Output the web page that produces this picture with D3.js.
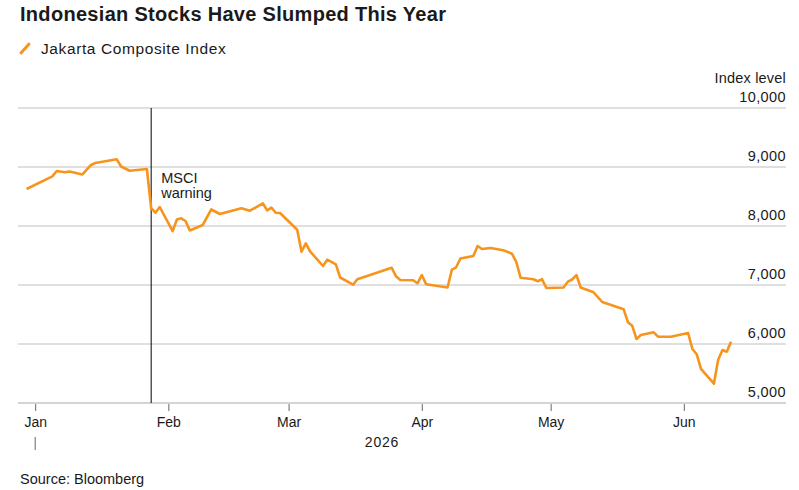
<!DOCTYPE html>
<html lang="en">
	<head>
		<meta charset="utf-8">
		<title>Indonesian Stocks Have Slumped This Year</title>
		<script src="https://d3js.org/d3.v7.min.js"></script>
		<style>
			body { margin: 0; background: #fff; }
			text { font-family: "Liberation Sans", Arial, Helvetica, sans-serif; fill: #1a1a1a; }
		</style>
	</head>
	<body>
		<script type="text/javascript">
			// window size setup
			var w = 799
			var h = 490
			var plotLeft = 18
			var plotRight = 786
			var plotTop = 108
			var plotBottom = 403

			// data
			var dates = ["2025-12-30","2026-01-05","2026-01-06","2026-01-08","2026-01-09","2026-01-12","2026-01-14","2026-01-15","2026-01-20","2026-01-21",
				"2026-01-23","2026-01-27","2026-01-28","2026-01-29","2026-01-30","2026-02-02","2026-02-03","2026-02-04","2026-02-05","2026-02-06",
				"2026-02-09","2026-02-11","2026-02-13","2026-02-18","2026-02-20","2026-02-23","2026-02-24","2026-02-25","2026-02-26","2026-02-27",
				"2026-03-03","2026-03-04","2026-03-05","2026-03-06","2026-03-09","2026-03-10","2026-03-12","2026-03-13","2026-03-16","2026-03-17",
				"2026-03-25","2026-03-26","2026-03-27","2026-03-30","2026-03-31","2026-04-01","2026-04-02","2026-04-07","2026-04-08","2026-04-09",
				"2026-04-10","2026-04-13","2026-04-14","2026-04-15","2026-04-17","2026-04-20","2026-04-22","2026-04-23","2026-04-24","2026-04-27",
				"2026-04-28","2026-04-29","2026-04-30","2026-05-04","2026-05-05","2026-05-06","2026-05-07","2026-05-08","2026-05-11","2026-05-13",
				"2026-05-18","2026-05-19","2026-05-20","2026-05-21","2026-05-22","2026-05-25","2026-05-26","2026-05-29","2026-06-02","2026-06-03",
				"2026-06-04","2026-06-05","2026-06-08","2026-06-09","2026-06-10","2026-06-11","2026-06-12"]
			var jciValues = [8627,8842,8932,8910,8924,8873,9034,9068,9130,9008,
				8937,8966,8305,8225,8322,7915,8110,8130,8085,7924,
				8017,8280,8203,8300,8259,8385,8266,8313,8225,8220,
				7937,7564,7707,7571,7322,7429,7351,7127,7005,7098,
				7293,7147,7085,7081,7029,7169,7014,6958,7259,7300,
				7449,7491,7661,7610,7627,7588,7530,7390,7124,7098,
				7064,7098,6949,6958,7056,7093,7169,6958,6876,6712,
				6588,6369,6308,6085,6153,6198,6124,6122,6186,5915,
				5827,5580,5327,5732,5898,5869,6039]
			var yTicks = [5000, 6000, 7000, 8000, 9000, 10000]
			var monthTicks = ["2026-01-01","2026-02-01","2026-03-01","2026-04-01","2026-05-01","2026-06-01"]
			var msciDate = "2026-01-28"

			var parse = d3.timeParse("%Y-%m-%d")
			var dataSet = dates.map(function(d, i){
				return [parse(d), jciValues[i]]
			})

			// scale setup
			var xScale = d3.scaleTime()
							.domain([new Date(2025, 11, 28), new Date(2026, 5, 24, 19)])
							.range([plotLeft, plotRight])
			var yScale = d3.scaleLinear()
							.domain([5000, 10000])
							.range([plotBottom, plotTop])

			var svg = d3.select("body")
						.append("svg")
						.attr("width", w)
						.attr("height", h)

			// title + legend
			svg.append("text")
				.attr("x", 20)
				.attr("y", 21)
				.attr("font-size", 20)
				.attr("font-weight", "bold")
				.attr("letter-spacing", 0.3)
				.text("Indonesian Stocks Have Slumped This Year")

			svg.append("line")
				.attr("x1", 21).attr("y1", 53)
				.attr("x2", 29).attr("y2", 44)
				.attr("stroke", "#f7941d")
				.attr("stroke-width", 3)
				.attr("stroke-linecap", "round")

			svg.append("text")
				.attr("x", 41)
				.attr("y", 54)
				.attr("font-size", 15.5)
				.attr("letter-spacing", 0.6)
				.text("Jakarta Composite Index")

			// gridlines + y labels
			svg.append("g")
				.selectAll("line")
				.data(yTicks)
				.enter()
				.append("line")
				.attr("x1", plotLeft)
				.attr("x2", plotRight)
				.attr("y1", function(d){ return yScale(d) })
				.attr("y2", function(d){ return yScale(d) })
				.attr("stroke", "#d4d4d4")
				.attr("stroke-width", function(d){ return d == 5000 ? 2 : 1.5 })

			svg.append("g")
				.selectAll("text")
				.data(yTicks)
				.enter()
				.append("text")
				.attr("x", plotRight)
				.attr("y", function(d){ return yScale(d) - 6 })
				.attr("text-anchor", "end")
				.attr("font-size", 14.5)
				.attr("letter-spacing", 0.4)
				.text(function(d){ return d3.format(",")(d) })

			svg.append("text")
				.attr("x", plotRight)
				.attr("y", 83)
				.attr("text-anchor", "end")
				.attr("font-size", 14.5)
				.attr("letter-spacing", 0.2)
				.text("Index level")

			// x axis
			var xAxis = d3.axisBottom(xScale)
							.tickValues(monthTicks.map(parse))
							.tickSize(7)
							.tickPadding(6)
							.tickFormat(d3.timeFormat("%b"))

			var gx = svg.append("g")
				.attr("transform", "translate(0," + (plotBottom + 1) + ")")
				.call(xAxis)
			gx.select(".domain").remove()
			gx.selectAll(".tick line").attr("stroke", "#666")
			gx.selectAll(".tick text")
				.attr("font-size", 14)
				.attr("fill", "#1a1a1a")
				.style("font-family", "'Liberation Sans', Arial, sans-serif")

			// year marker under Jan
			svg.append("line")
				.attr("x1", xScale(parse("2026-01-01")))
				.attr("x2", xScale(parse("2026-01-01")))
				.attr("y1", 437)
				.attr("y2", 450)
				.attr("stroke", "#666")

			svg.append("text")
				.attr("x", 382)
				.attr("y", 447)
				.attr("text-anchor", "middle")
				.attr("font-size", 14)
				.attr("letter-spacing", 0.8)
				.text("2026")

			// MSCI annotation
			var mx = xScale(parse(msciDate))
			svg.append("line")
				.attr("x1", mx).attr("x2", mx)
				.attr("y1", plotTop).attr("y2", plotBottom)
				.attr("stroke", "#000")
				.attr("stroke-width", 1)

			svg.append("text")
				.attr("x", mx + 10)
				.attr("y", 183)
				.attr("font-size", 14.5)
				.text("MSCI")
			svg.append("text")
				.attr("x", mx + 10)
				.attr("y", 198)
				.attr("font-size", 14.5)
				.text("warning")

			// line
			var line = d3.line()
							.x(function(d){ return xScale(d[0]) })
							.y(function(d){ return yScale(d[1]) })

			svg.append("path")
				.datum(dataSet)
				.attr("d", line)
				.attr("fill", "none")
				.attr("stroke", "#f7941d")
				.attr("stroke-width", 2.6)
				.attr("stroke-linejoin", "round")

			// source
			svg.append("text")
				.attr("x", 20)
				.attr("y", 484)
				.attr("font-size", 14.5)
				.text("Source: Bloomberg")
		</script>
	</body>
</html>
